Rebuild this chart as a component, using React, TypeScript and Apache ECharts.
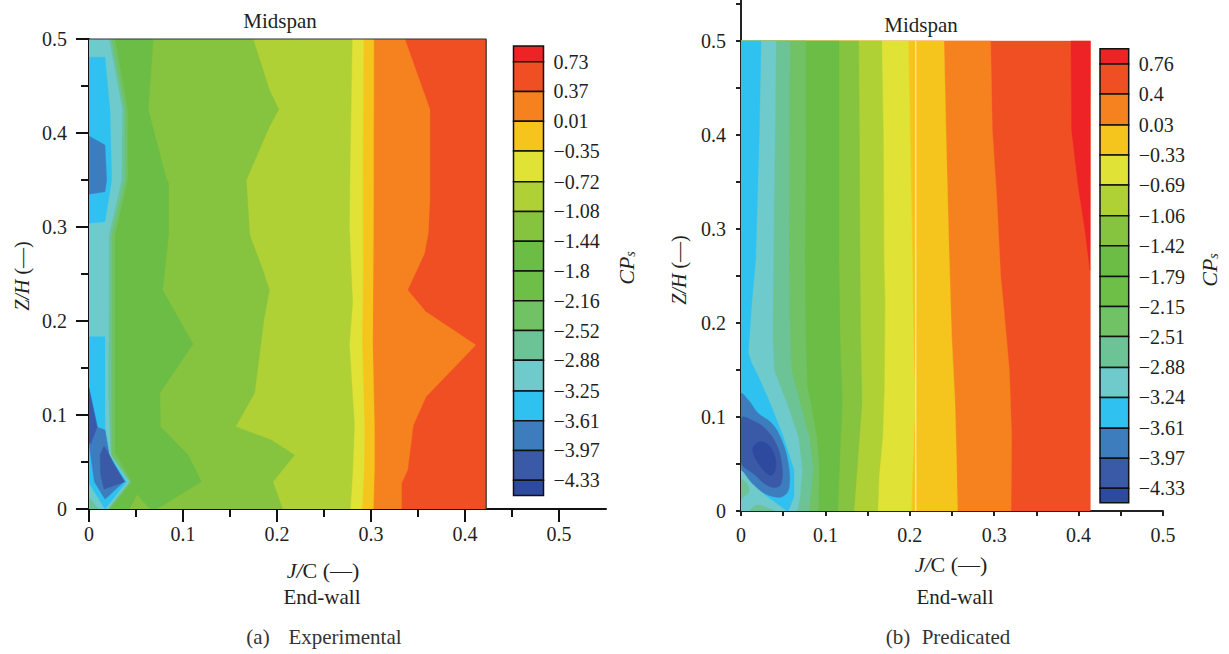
import React, { useEffect, useRef } from "react";
import * as echarts from "echarts";

// ---------- tick values ----------
const xMajorA = [0, 0.1, 0.2, 0.3, 0.4, 0.5];
const xMinorA = [0.05, 0.15, 0.25, 0.35, 0.45];
const yMajor = [0, 0.1, 0.2, 0.3, 0.4, 0.5];
const yMinor = [0.05, 0.15, 0.25, 0.35, 0.45];
const yMinorB = [0.05, 0.15, 0.25, 0.35, 0.45, 0.54];

// ---------- colour bar levels ----------
const levelsA = [0.73, 0.37, 0.01, -0.35, -0.72, -1.08, -1.44, -1.8, -2.16, -2.52, -2.88, -3.25, -3.61, -3.97, -4.33];
const levelsB = [0.76, 0.4, 0.03, -0.33, -0.69, -1.06, -1.42, -1.79, -2.15, -2.51, -2.88, -3.24, -3.61, -3.97, -4.33];
const barColors = [
  "#EE2325", "#F04E23", "#F5821F", "#F6C51D", "#E0E236", "#AFD136", "#86C440", "#6CBD45",
  "#6EBF47", "#70C264", "#6CC396", "#6FCBCB", "#2FC2F0", "#3D7DBD", "#3A5AA8", "#2E4A9F",
];
const [cRed, cRedOrange, cOrange, cGold, cYellow, cLime, cG2, cG3, , cG4, cT1, cT2, cSky, cBlue, cDark, cDarkest] = barColors;

// ---------- experimental field: contour lines, top to bottom ----------
const aRightEdge = 0.4225;
const aOrange = [[0.336, 0.5], [0.3627, 0.425], [0.3627, 0.33], [0.361, 0.294], [0.357, 0.272], [0.339, 0.233], [0.358, 0.21], [0.4115, 0.1745], [0.3585, 0.1195], [0.345, 0.089], [0.339, 0.0415], [0.3326, 0.0277], [0.3326, 0]];
const aGold = [[0.303, 0.5], [0.3026, 0.3], [0.3018, 0.175], [0.3036, 0.089], [0.3036, 0.04], [0.3025, 0]];
const aYellow = [[0.292, 0.5], [0.2912, 0.37], [0.2915, 0.26], [0.2905, 0.175], [0.293, 0.089], [0.2925, 0.04], [0.2905, 0]];
const aLime = [[0.28, 0.5], [0.2778, 0.37], [0.277, 0.3], [0.279, 0.25], [0.2805, 0.22], [0.277, 0.175], [0.2824, 0.089], [0.2805, 0.04], [0.278, 0]];
const aG2 = [[0.1745, 0.5], [0.192, 0.4457], [0.202, 0.425], [0.192, 0.4068], [0.1674, 0.35], [0.171, 0.2915], [0.185, 0.254], [0.192, 0.233], [0.186, 0.201], [0.1762, 0.1234], [0.156, 0.0876], [0.194, 0.0734], [0.2187, 0.0574], [0.1957, 0.029], [0.206, 0]];
const aG3 = [[0.0683, 0.5], [0.063, 0.425], [0.0817, 0.3535], [0.0846, 0.3466], [0.0846, 0.2915], [0.0796, 0.2436], [0.0782, 0.233], [0.1107, 0.1755], [0.0754, 0.1234], [0.0761, 0.0876], [0.1054, 0.0574], [0.1196, 0.029], [0.0718, 0]];
const aG4 = [[0.0276, 0.5], [0.041, 0.425], [0.041, 0.35], [0.0276, 0.2915], [0.0276, 0.06], [0.0453, 0.029], [0.0223, 0]];
const aT1 = [[0.024, 0.5], [0.0382, 0.425], [0.0382, 0.35], [0.024, 0.2915], [0.024, 0.0574], [0.0442, 0.029], [0.021, 0]];
const aT2 = [[0.0212, 0.5], [0.0354, 0.425], [0.0346, 0.35], [0.0212, 0.2915], [0.0205, 0.1234], [0.023, 0.0574], [0.0428, 0.029], [0.02, 0]];
const aGreenPatch = [[0.0435, 0], [0.0513, 0.015], [0.0647, 0]];
const aCorner = [[0, 0], [0, 0.012], [0.01, 0]];
const aSkyUpper = [[0, 0.4806], [0.017, 0.4806], [0.0223, 0.4245], [0.0241, 0.35], [0.017, 0.3056], [0, 0.3039]];
const aBlueUpper = [[0, 0.3968], [0.017, 0.3872], [0.0188, 0.35], [0.017, 0.3376], [0, 0.3348]];
const aSkyLower = [[0, 0.1833], [0.017, 0.1833], [0.017, 0.0869], [0.0216, 0.0574], [0.04, 0.029], [0.017, 0], [0, 0.0277]];
const aBlueLower = [[0, 0.1284], [0.0092, 0.0869], [0.017, 0.084], [0.0216, 0.0574], [0.0372, 0.029], [0.017, 0.0103], [0.0057, 0.029], [0, 0.07]];
const aDarkStrip = [[0, 0.1284], [0.0085, 0.0869], [0.002, 0.07], [0, 0.07]];
const aDarkLower = [[0.0159, 0.067], [0.0117, 0.0574], [0.0124, 0.0362], [0.0159, 0.021], [0.0382, 0.029], [0.0258, 0.0486], [0.0188, 0.063]];
const aOutline = [[0, 0.5], [aRightEdge, 0.5], [aRightEdge, 0]];

// ---------- predicted field ----------
const bRightEdge = 0.4139;
const bRedPatch = [[0.391, 0.5], [0.3918, 0.405], [0.3997, 0.345], [0.4076, 0.2989], [0.4135, 0.2564], [0.4139, 0.5]];
const bOrange = [[0.2958, 0.5], [0.2978, 0.405], [0.303, 0.3344], [0.3077, 0.25], [0.3108, 0.2213], [0.318, 0.15], [0.3207, 0.079], [0.32, 0]];
const bGold = [[0.2405, 0.5], [0.2429, 0.402], [0.2468, 0.267], [0.2496, 0.1854], [0.2536, 0.115], [0.2556, 0.045], [0.2565, 0]];
const bYellow = [[0.1983, 0.5], [0.2002, 0.402], [0.203, 0.267], [0.2042, 0.1854], [0.2062, 0.115], [0.2034, 0.0436], [0.2018, 0]];
const bLime = [[0.1667, 0.5], [0.1686, 0.402], [0.1694, 0.267], [0.1706, 0.2213], [0.1698, 0.1322], [0.1679, 0.079], [0.1635, 0.0365], [0.162, 0]];
const bG2 = [[0.1394, 0.5], [0.1402, 0.402], [0.141, 0.267], [0.1418, 0.1854], [0.1434, 0.115], [0.139, 0.062], [0.1339, 0]];
const bG3 = [[0.1161, 0.5], [0.1161, 0.267], [0.1173, 0.1854], [0.12, 0.115], [0.1173, 0.062], [0.1145, 0]];
const bG4 = [[0.077, 0.5], [0.077, 0.402], [0.0758, 0.267], [0.0765, 0.1854], [0.0786, 0.132], [0.0826, 0.115], [0.0897, 0.079], [0.0928, 0.0436], [0.0916, 0]];
const bT1 = [[0.0581, 0.5], [0.0573, 0.402], [0.0569, 0.2564], [0.0581, 0.1854], [0.06, 0.15], [0.0699, 0.115], [0.0809, 0.079], [0.0857, 0.0436], [0.0806, 0]];
const bT2 = [[0.0415, 0.5], [0.0403, 0.402], [0.0383, 0.267], [0.0375, 0.1854], [0.0391, 0.15], [0.0541, 0.115], [0.0679, 0.079], [0.0726, 0.0436], [0.0699, 0.0152], [0.0667, 0]];
const bSky = [[0.0237, 0.5], [0.0217, 0.402], [0.0174, 0.267], [0.0127, 0.2213], [0.0087, 0.168], [0.0127, 0.1573], [0.0205, 0.143], [0.0344, 0.115], [0.0501, 0.079], [0.0628, 0.0436], [0.0628, 0.0152], [0.056, 0]];
const bBlue = [[0, 0.1245], [0.0087, 0.1181], [0.0205, 0.1039], [0.0364, 0.0933], [0.0482, 0.0755], [0.056, 0.0507], [0.0572, 0.0259], [0.0521, 0.017], [0.0423, 0.0146], [0.0245, 0.0205], [0.0087, 0.033], [0, 0.0479]];
const bDark = [[0, 0.0986], [0.0166, 0.095], [0.0304, 0.0862], [0.0423, 0.0702], [0.0482, 0.0507], [0.0482, 0.0312], [0.0423, 0.0252], [0.0304, 0.0277], [0.0166, 0.0383], [0, 0.0524]];
const bDarkest = [[0.0146, 0.0684], [0.0225, 0.0737], [0.0323, 0.0702], [0.0395, 0.0596], [0.0411, 0.0471], [0.0371, 0.0383], [0.0304, 0.0401], [0.0205, 0.0507], [0.0146, 0.0614]];
const bTealCorner = [[0, 0.0418], [0.0127, 0.0295], [0.0284, 0.017], [0.0442, 0.0064], [0.0521, 0], [0, 0]];
const bCornerUpper = [[0, 0.033], [0.0067, 0.0295], [0.0095, 0.0205], [0.0027, 0.0152], [0, 0.012]];
const bCornerLower = [[0.0118, 0], [0.0186, 0.0064], [0.0323, 0.0029], [0.0395, 0]];
const bPaleLine = [[0.207, 0.5], [0.207, 0]];

const SERIF = '"Liberation Serif", serif';
const INK = "#231F20";

// every contour line closes against the left wall of the plot
const leftOf = (line: number[][]) => [[0, line[0][1]], ...line, [0, line[line.length - 1][1]]];
const boxTo = (right: number) => [[0, 0], [right, 0], [right, 0.5], [0, 0.5]];

function poly(pts: number[][], color: string, axis: number, smooth = 0) {
  return {
    type: "custom",
    coordinateSystem: "cartesian2d",
    xAxisIndex: axis,
    yAxisIndex: axis,
    silent: true,
    clip: true,
    data: pts,
    renderItem: (params: any, api: any) =>
      params.dataIndex === 0
        ? {
            type: "polygon",
            shape: { points: pts.map((p) => api.coord(p)), smooth },
            style: { fill: color, stroke: color, lineWidth: 0.4 },
          }
        : null,
  };
}

function colorBar(levels: number[], axis: number, top: number, bottom: number) {
  const edges = [top, ...levels, bottom];
  const cells = barColors.map((_, i) => [edges[i + 1], edges[i], i]);
  return {
    type: "custom",
    coordinateSystem: "cartesian2d",
    xAxisIndex: axis,
    yAxisIndex: axis,
    silent: true,
    data: cells,
    renderItem: (_: any, api: any) => {
      const a = api.coord([0, api.value(1)]);
      const b = api.coord([1, api.value(0)]);
      return {
        type: "rect",
        shape: { x: a[0], y: a[1], width: b[0] - a[0], height: b[1] - a[1] },
        style: { fill: barColors[api.value(2)], stroke: "#111", lineWidth: 1.5 },
      };
    },
  };
}

function label(text: string, x: number, y: number, size = 21, fill = INK) {
  return {
    type: "text",
    x,
    y,
    silent: true,
    style: { text, fill, font: `${size}px ${SERIF}`, textAlign: "center", textVerticalAlign: "middle" },
  };
}
function sideLabel(text: string, x: number, y: number, size = 18) {
  return { ...label(text, x, y, size), rotation: Math.PI / 2 };
}
function richLabel(text: string, x: number, y: number, rotated: boolean, size = 21) {
  return {
    type: "text",
    x,
    y,
    silent: true,
    rotation: rotated ? Math.PI / 2 : 0,
    style: {
      text,
      fill: INK,
      font: `${size}px ${SERIF}`,
      textAlign: "center",
      textVerticalAlign: "middle",
      rich: {
        i: { font: `italic ${size}px ${SERIF}`, fill: INK },
        n: { font: `${size}px ${SERIF}`, fill: INK },
        s: { font: `italic 14px ${SERIF}`, fill: INK, verticalAlign: "bottom", padding: [8, 0, 0, 0] },
      },
    },
  };
}

function panelAxes(
  grid: number,
  xMax: number,
  yMax: number,
  xMajor: number[],
  xMinor: number[],
  yMin: number[],
  major: number,
  minor: number,
  xMargin: number,
  yMargin: number,
  color: string,
) {
  const line = { onZero: false, lineStyle: { color, width: 2 } };
  const base = { type: "value", gridIndex: grid, min: 0, splitLine: { show: false } };
  const fmt = (v: number) => (v === 0 ? "0" : String(Math.round(v * 10) / 10));
  const text = { color: INK, fontFamily: SERIF, fontSize: 20 };
  return {
    x: [
      {
        ...base,
        position: "bottom",
        max: xMax,
        axisLine: line,
        axisTick: { length: major, lineStyle: { color, width: 2 }, customValues: xMajor },
        axisLabel: { ...text, margin: xMargin, formatter: fmt, customValues: xMajor },
      },
      {
        ...base,
        position: "bottom",
        max: xMax,
        axisLine: { show: false, onZero: false },
        axisTick: { length: minor, lineStyle: { color, width: 2 }, customValues: xMinor },
        axisLabel: { show: false },
      },
    ],
    y: [
      {
        ...base,
        position: "left",
        max: yMax,
        axisLine: line,
        axisTick: { length: major, lineStyle: { color, width: 2 }, customValues: yMajor },
        axisLabel: { ...text, margin: yMargin, formatter: fmt, customValues: yMajor },
      },
      {
        ...base,
        position: "left",
        max: yMax,
        axisLine: { show: false, onZero: false },
        axisTick: { length: minor, lineStyle: { color, width: 2 }, customValues: yMin },
        axisLabel: { show: false },
      },
    ],
  };
}

function barAxes(grid: number, levels: number[], top: number, bottom: number) {
  return {
    x: { type: "value", gridIndex: grid, min: 0, max: 1, show: false },
    y: {
      type: "value",
      gridIndex: grid,
      position: "right",
      min: bottom,
      max: top,
      splitLine: { show: false },
      axisLine: { show: false },
      axisTick: { show: false },
      axisLabel: {
        color: INK,
        fontFamily: SERIF,
        fontSize: 20,
        margin: 10,
        customValues: levels,
        formatter: (v: number) => String(v).replace("-", "\u2212"),
      },
    },
  };
}

export default function App() {
  const ref = useRef<HTMLDivElement>(null);
  useEffect(() => {
    if (!ref.current) return;
    const chart = echarts.init(ref.current, undefined, { renderer: "svg" });

    const pa = panelAxes(0, 0.55, 0.5, xMajorA, xMinorA, yMinor, 13, 8, 15, 22, "#111");
    const pb = panelAxes(1, 0.5, 511 / 940, xMajorA, xMinorA, yMinorB, 5, 5, 14, 15, "#222");
    // axis indexes: 0 panel a, 1 panel b, 2 bar a, 3 bar b, 4 panel a minor, 5 panel b minor
    const barTopA = 0.92, barBottomA = -4.515, barTopB = 0.944, barBottomB = -4.503;
    const ba = barAxes(2, levelsA, barTopA, barBottomA);
    const bb = barAxes(3, levelsB, barTopB, barBottomB);

    const aLayers: [number[][], string][] = [
      [boxTo(aRightEdge), cRedOrange],
      [leftOf(aOrange), cOrange],
      [leftOf(aGold), cGold],
      [leftOf(aYellow), cYellow],
      [leftOf(aLime), cLime],
      [leftOf(aG2), cG2],
      [leftOf(aG3), cG3],
      [aGreenPatch, cG2],
      [leftOf(aG4), cG4],
      [leftOf(aT1), cT1],
      [leftOf(aT2), cT2],
      [aCorner, cT1],
      [aSkyUpper, cSky],
      [aBlueUpper, cBlue],
      [aSkyLower, cSky],
      [aBlueLower, cBlue],
      [aDarkStrip, cDark],
      [aDarkLower, cDark],
    ];
    const bLayers: [number[][], string][] = [
      [boxTo(bRightEdge), cRedOrange],
      [bRedPatch, cRed],
      [leftOf(bOrange), cOrange],
      [leftOf(bGold), cGold],
      [leftOf(bYellow), cYellow],
      [leftOf(bLime), cLime],
      [leftOf(bG2), cG2],
      [leftOf(bG3), cG3],
      [leftOf(bG4), cG4],
      [leftOf(bT1), cT1],
      [leftOf(bT2), cT2],
      [leftOf(bSky), cSky],
    ];
    const bIslands: [number[][], string][] = [
      [bBlue, cBlue],
      [bDark, cDark],
      [bDarkest, cDarkest],
      [bTealCorner, cT2],
      [bCornerUpper, cT1],
      [bCornerLower, cT1],
    ];

    chart.setOption({
      animation: false,
      backgroundColor: "#fff",
      grid: [
        { left: 89, top: 39, width: 517, height: 470 },
        { left: 741, top: 0, width: 422, height: 511 },
        { left: 513.5, top: 46, width: 30, height: 449.5 },
        { left: 1100, top: 48.7, width: 28.7, height: 454 },
      ],
      xAxis: [pa.x[0], pb.x[0], ba.x, bb.x, pa.x[1], pb.x[1]],
      yAxis: [pa.y[0], pb.y[0], ba.y, bb.y, pa.y[1], pb.y[1]],
      series: [
        ...aLayers.map(([p, c]) => poly(p, c, 0)),
        ...bLayers.map(([p, c]) => poly(p, c, 1)),
        ...bIslands.map(([p, c]) => poly(p, c, 1, 0.4)),
        {
          type: "line",
          xAxisIndex: 0,
          yAxisIndex: 0,
          data: aOutline,
          symbol: "none",
          silent: true,
          clip: false,
          lineStyle: { color: "#333", width: 1.2 },
        },
        {
          type: "line",
          xAxisIndex: 1,
          yAxisIndex: 1,
          data: bPaleLine,
          symbol: "none",
          silent: true,
          lineStyle: { color: "#FBE7A0", width: 1.2 },
        },
        colorBar(levelsA, 2, barTopA, barBottomA),
        colorBar(levelsB, 3, barTopB, barBottomB),
        // minor tick axes need one series each to stay bound to their grid
        { type: "line", xAxisIndex: 4, yAxisIndex: 4, data: [], silent: true },
        { type: "line", xAxisIndex: 5, yAxisIndex: 5, data: [], silent: true },
      ],
      graphic: [
        label("Midspan", 280, 21),
        label("Midspan", 921, 25),
        richLabel("{i|J/}{n|C (\u2014)}", 323, 570, false, 22),
        richLabel("{i|J/}{n|C (\u2014)}", 951, 564, false, 22),
        label("End-wall", 322, 597),
        label("End-wall", 955, 597),
        richLabel("{i|Z/H} {n|(\u2014)}", 22, 276, true, 20),
        richLabel("{i|Z/H} {n|(\u2014)}", 679, 270, true, 20),
        richLabel("{i|CP}{s|s}", 626, 268, true, 22),
        richLabel("{i|CP}{s|s}", 1209, 270, true, 22),
        sideLabel("S.S", 106.5, 283),
        sideLabel("P.S", 463, 295),
        sideLabel("S.S", 767, 215),
        sideLabel("P.S", 1066, 239),
        label("(a)", 258, 637, 21, "#333"),
        label("Experimental", 345, 637, 21, "#333"),
        label("(b)", 898, 637, 21, "#333"),
        label("Predicated", 966, 637, 21, "#333"),
      ],
    });
    return () => chart.dispose();
  }, []);
  return <div ref={ref} style={{ position: "absolute", left: 0, top: 0, width: 1229, height: 654 }} />;
}
